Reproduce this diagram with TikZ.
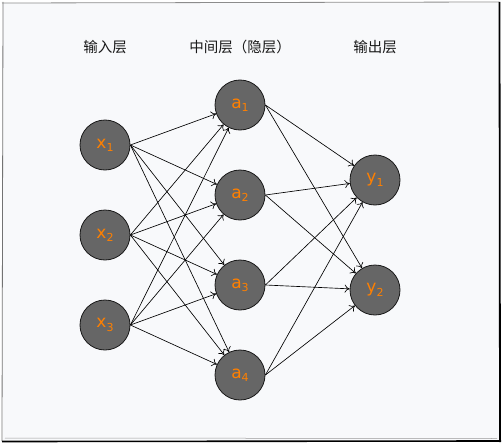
\documentclass[tikz,border=0pt]{standalone}
\usepackage{fontspec}
\setmainfont{DejaVu Sans}
\newfontfamily\cjk{Noto Sans CJK SC}
\usetikzlibrary{arrows.meta}
\definecolor{neuron}{HTML}{666666}
\definecolor{labelorange}{HTML}{FF8000}
\definecolor{paper}{HTML}{F8F9FB}
\newcommand{\idx}[1]{\raisebox{-0.35ex}{\fontsize{11}{11}\selectfont #1}}
\tikzset{
  neuron/.style={circle, draw=black!90, fill=neuron, line width=0.8pt,
    minimum size=50pt, inner sep=0pt, text=labelorange, font=\fontsize{17}{17}\selectfont},
  layertitle/.style={font=\cjk\fontsize{14.5}{15}\selectfont, text=black!90},
  edge/.style={black, line width=0.65pt, -{To[length=5pt,width=8pt]}}
}
\begin{document}
\begin{tikzpicture}[x=1pt, y=-1pt]
    \useasboundingbox (0,0) rectangle (503,444);
    % sketchy frame
    \fill [paper] (3,3) rectangle (499,440);
    \draw [black!45, line width=0.8] (2,3) -- (499,2);
    \draw [black!55, line width=0.8] (3,2) -- (2,441);
    \draw [black, line width=1.8] (499.5,2) -- (500,442);
    \draw [black, line width=1.6] (2,441.5) -- (501,441);
    \draw [black!40, line width=0.5] (5,438) -- (497,438.5);
    % layer titles
    \node [layertitle] (tin) at (105,47) {输入层};
    \node [layertitle] (thid) at (240,47) {中间层（隐层）};
    \node [layertitle] (tout) at (375,47) {输出层};
    % input layer
    \node [neuron] (x1) at (105,145) {x\idx{1}};
    \node [neuron] (x2) at (105,235) {x\idx{2}};
    \node [neuron] (x3) at (105,325) {x\idx{3}};
    % hidden layer
    \node [neuron] (a1) at (240,105) {a\idx{1}};
    \node [neuron] (a2) at (240,195) {a\idx{2}};
    \node [neuron] (a3) at (240,285) {a\idx{3}};
    \node [neuron] (a4) at (240,375) {a\idx{4}};
    % output layer
    \node [neuron] (y1) at (375,180) {y\idx{1}};
    \node [neuron] (y2) at (375,290) {y\idx{2}};
    % connections
    \foreach \i in {1,2,3}
      \foreach \j in {1,2,3,4}
        \draw [edge] (x\i.east) -- (a\j);
    \foreach \j in {1,2,3,4}
      \foreach \k in {1,2}
        \draw [edge] (a\j.east) -- (y\k);
\end{tikzpicture}
\end{document}
